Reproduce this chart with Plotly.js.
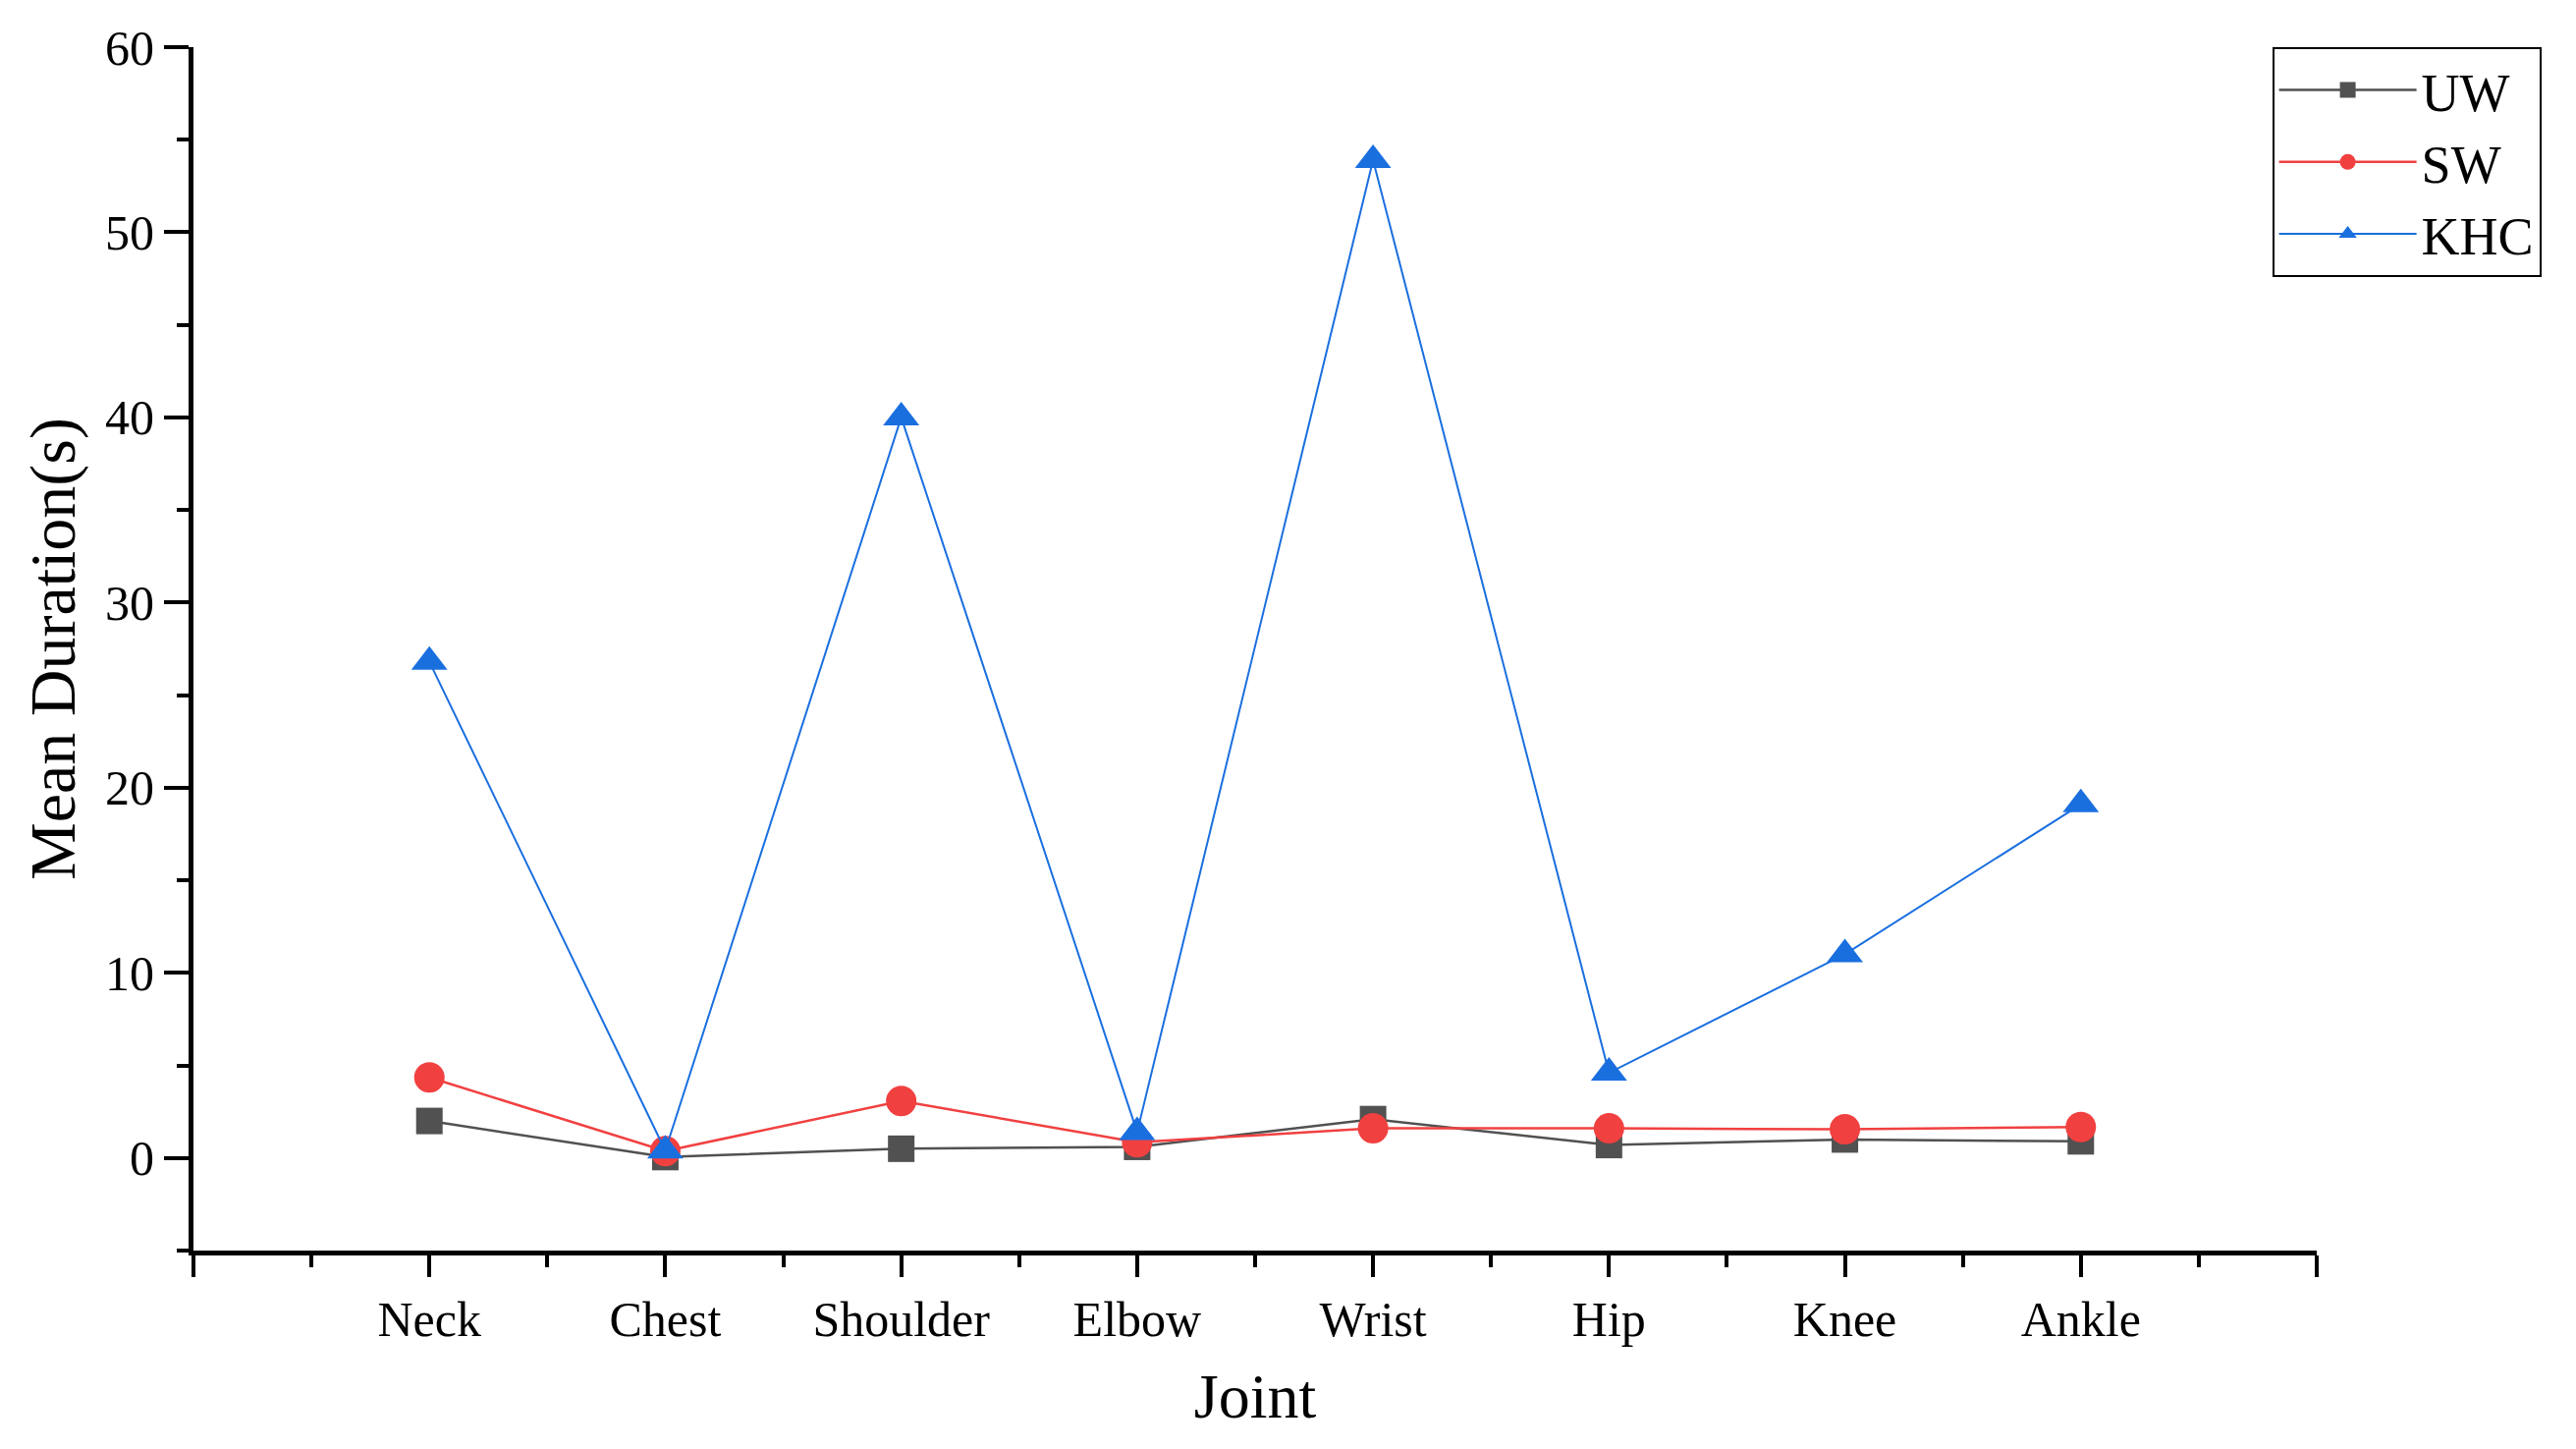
<!DOCTYPE html>
<html>
<head>
<meta charset="utf-8">
<script src="https://cdn.plot.ly/plotly-3.0.1.min.js"></script>
<style>
  html, body { margin: 0; padding: 0; background: #ffffff; }
  #chart { width: 2623px; height: 1475px; }
</style>
</head>
<body>
<div id="chart"></div>
<script>
// ---- data ----
const joints = ["Neck", "Chest", "Shoulder", "Elbow", "Wrist", "Hip", "Knee", "Ankle"];
const uwValues  = [2.0, 0.05, 0.5, 0.6, 2.1, 0.7, 1.0, 0.9];
const swValues  = [4.35, 0.37, 3.08, 0.85, 1.6, 1.6, 1.55, 1.67];
const khcValues = [26.8, 0.4, 40.0, 1.4, 53.9, 4.6, 11.0, 19.1];
const seriesNames = ["UW", "SW", "KHC"];
const yTickVals = [0, 10, 20, 30, 40, 50, 60];

// positions of the categories on the linear x axis
const xPos = joints.map((_, i) => i);
const xTickVals = [-1].concat(xPos, [joints.length]);
const xTickText = [""].concat(joints, [""]);

const FONT = "Liberation Serif, Times New Roman, serif";

const traces = [
  {
    name: seriesNames[0], x: xPos, y: uwValues, type: "scatter", mode: "lines+markers",
    line: { color: "#515151", width: 2.5 },
    marker: { symbol: "square", size: 27, color: "#515151" }
  },
  {
    name: seriesNames[1], x: xPos, y: swValues, type: "scatter", mode: "lines+markers",
    line: { color: "#F14040", width: 2.5 },
    marker: { symbol: "circle", size: 31, color: "#F14040" }
  },
  {
    name: seriesNames[2], x: xPos, y: khcValues, type: "scatter", mode: "lines+markers",
    line: { color: "#1A6FDF", width: 2 },
    marker: { symbol: "triangle-up", size: 32, color: "#1A6FDF" }
  }
];

const layout = {
  width: 2623, height: 1475,
  paper_bgcolor: "#ffffff", plot_bgcolor: "#ffffff",
  margin: { l: 197, r: 264, t: 48, b: 202 },
  font: { family: FONT, color: "#000000", size: 50 },
  showlegend: true,
  legend: {
    x: 0.979, xanchor: "left", y: 1.0, yanchor: "top",
    bgcolor: "#ffffff", bordercolor: "#000000", borderwidth: 2,
    font: { family: FONT, size: 54, color: "#000000" },
    itemwidth: 140,
    tracegroupgap: 0
  },
  xaxis: {
    range: [-1, joints.length],
    tickmode: "array", tickvals: xTickVals, ticktext: xTickText,
    showgrid: false, zeroline: false,
    showline: true, linecolor: "#000000", linewidth: 5,
    ticks: "outside", ticklen: 22, tickwidth: 4, tickcolor: "#000000",
    tickfont: { family: FONT, size: 50, color: "#000000" },
    minor: { tickmode: "linear", tick0: -0.5, dtick: 1, ticks: "outside", ticklen: 12, tickwidth: 4, tickcolor: "#000000", showgrid: false },
    title: { text: "Joint", font: { family: FONT, size: 64, color: "#000000" }, standoff: 30 },
    automargin: false,
    fixedrange: true
  },
  yaxis: {
    range: [-5, 60],
    tickmode: "array", tickvals: yTickVals,
    showgrid: false, zeroline: false,
    showline: true, linecolor: "#000000", linewidth: 5,
    ticks: "outside", ticklen: 25, tickwidth: 4, tickcolor: "#000000",
    tickfont: { family: FONT, size: 50, color: "#000000" },
    minor: { tickmode: "linear", tick0: -5, dtick: 10, ticks: "outside", ticklen: 12, tickwidth: 4, tickcolor: "#000000", showgrid: false },
    title: { text: "Mean Duration(s)", font: { family: FONT, size: 66, color: "#000000" }, standoff: 10 },
    automargin: false,
    fixedrange: true
  }
};

Plotly.newPlot("chart", traces, layout, { displayModeBar: false, staticPlot: true });
</script>
</body>
</html>
